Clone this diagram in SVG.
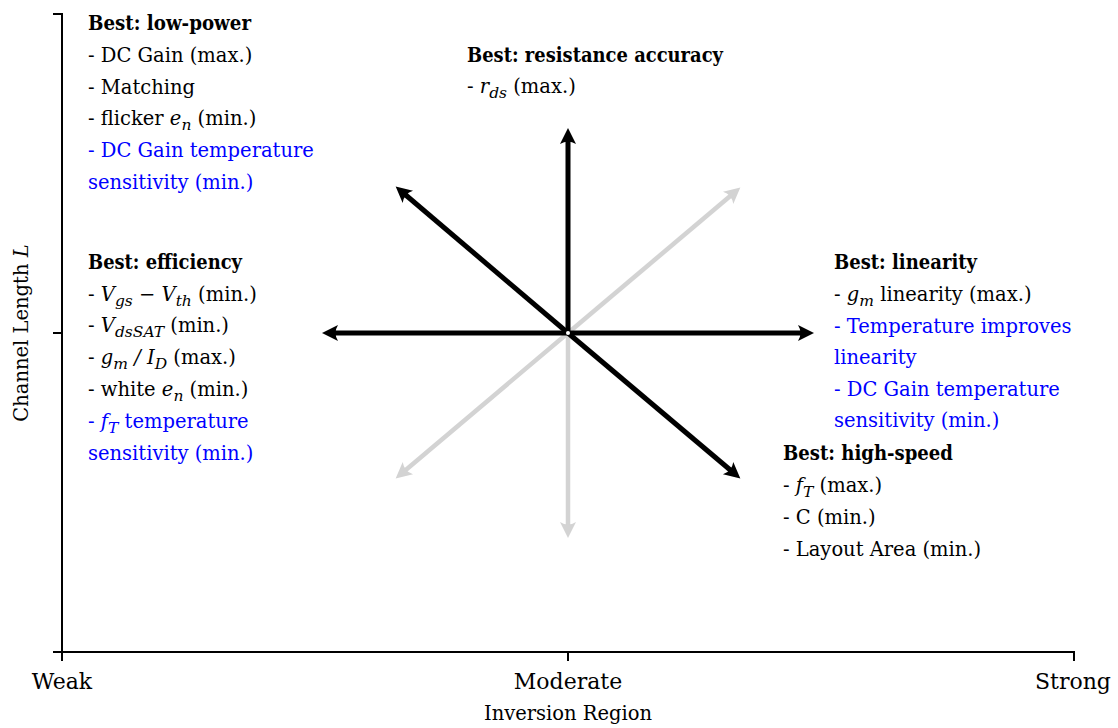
<svg xmlns="http://www.w3.org/2000/svg" width="1118" height="728" viewBox="0 0 1118 728">
  <style>
    text { font-family: "DejaVu Serif", "Liberation Serif", serif; font-size: 19.5px; fill: #000; }
    .b { font-weight: bold; font-size: 19.5px; }
    .blue { fill: #0000ff; }
    .m { font-style: italic; }
    .s { font-style: italic; font-size: 15.5px; }
    .tick { font-size: 22px; }
    .axis { stroke: #000; stroke-width: 2; fill: none; }
    .blk { stroke: #000; stroke-width: 5; fill: none; }
    .gry { stroke: #d3d3d3; stroke-width: 4.5; fill: none; }
  </style>
  <defs>
    <marker id="ahB" markerUnits="userSpaceOnUse" viewBox="-12 -10 24 20" refX="0" refY="0" markerWidth="24" markerHeight="20" orient="auto" overflow="visible">
      <path d="M7,0 L-9,-8 Q-4,0 -9,8 Z" fill="#000"/>
    </marker>
    <marker id="ahG" markerUnits="userSpaceOnUse" viewBox="-12 -10 24 20" refX="0" refY="0" markerWidth="24" markerHeight="20" orient="auto" overflow="visible">
      <path d="M7,0 L-9,-8 Q-4,0 -9,8 Z" fill="#d3d3d3"/>
    </marker>
  </defs>
  <rect width="1118" height="728" fill="#fff"/>

  <g id="axes">
    <path class="axis" d="M53,14 H62 V661"/>
    <path class="axis" d="M53,333 H62"/>
    <path class="axis" d="M53,652 H1074 V661"/>
    <path class="axis" d="M568,652 V661"/>
    <text class="tick" x="62" y="689" text-anchor="middle">Weak</text>
    <text class="tick" x="568" y="689" text-anchor="middle">Moderate</text>
    <text class="tick" x="1073" y="689" text-anchor="middle">Strong</text>
    <text x="568" y="720" text-anchor="middle">Inversion Region</text>
    <text x="28" y="333" text-anchor="middle" transform="rotate(-90 28 333)">Channel Length <tspan class="m">L</tspan></text>
  </g>

  <g id="connectors">
    <line class="gry" x1="568" y1="333" x2="735" y2="192" marker-end="url(#ahG)"/>
    <line class="gry" x1="568" y1="333" x2="401" y2="474" marker-end="url(#ahG)"/>
    <line class="gry" x1="568" y1="333" x2="568" y2="531" marker-end="url(#ahG)"/>
    <line class="blk" x1="568" y1="333" x2="568" y2="135" marker-end="url(#ahB)"/>
    <line class="blk" x1="568" y1="333" x2="329" y2="333" marker-end="url(#ahB)"/>
    <line class="blk" x1="568" y1="333" x2="807" y2="333" marker-end="url(#ahB)"/>
    <line class="blk" x1="568" y1="333" x2="401" y2="191" marker-end="url(#ahB)"/>
    <line class="blk" x1="568" y1="333" x2="735" y2="474" marker-end="url(#ahB)"/>
    <circle cx="568" cy="333" r="2" fill="#fff"/>
  </g>

  <g id="low-power">
    <text class="b" x="88" y="30" textLength="163" lengthAdjust="spacingAndGlyphs">Best: low-power</text>
    <text x="88" y="62">- DC Gain (max.)</text>
    <text x="88" y="94">- Matching</text>
    <text x="88" y="125">- flicker <tspan class="m">e</tspan><tspan class="s" dy="5">n</tspan><tspan dy="-5"> (min.)</tspan></text>
    <text class="blue" x="88" y="157">- DC Gain temperature</text>
    <text class="blue" x="88" y="189">sensitivity (min.)</text>
  </g>

  <g id="resistance-accuracy">
    <text class="b" x="467" y="62" textLength="256" lengthAdjust="spacingAndGlyphs">Best: resistance accuracy</text>
    <text x="467" y="93">- <tspan class="m">r</tspan><tspan class="s" dy="5">ds</tspan><tspan dy="-5"> (max.)</tspan></text>
  </g>

  <g id="efficiency">
    <text class="b" x="88" y="269" textLength="154" lengthAdjust="spacingAndGlyphs">Best: efficiency</text>
    <text x="88" y="301">- <tspan class="m">V</tspan><tspan class="s" dy="5">gs</tspan><tspan dy="-5"> − </tspan><tspan class="m">V</tspan><tspan class="s" dy="5">th</tspan><tspan dy="-5"> (min.)</tspan></text>
    <text x="88" y="332">- <tspan class="m">V</tspan><tspan class="s" dy="5">dsSAT</tspan><tspan dy="-5"> (min.)</tspan></text>
    <text x="88" y="364">- <tspan class="m">g</tspan><tspan class="s" dy="5">m</tspan><tspan class="m" dy="-5"> / I</tspan><tspan class="s" dy="5">D</tspan><tspan dy="-5"> (max.)</tspan></text>
    <text x="88" y="396">- white <tspan class="m">e</tspan><tspan class="s" dy="5">n</tspan><tspan dy="-5"> (min.)</tspan></text>
    <text class="blue" x="88" y="428">- <tspan class="m">f</tspan><tspan class="s" dy="5">T</tspan><tspan dy="-5"> temperature</tspan></text>
    <text class="blue" x="88" y="460">sensitivity (min.)</text>
  </g>

  <g id="linearity">
    <text class="b" x="834" y="269" textLength="143" lengthAdjust="spacingAndGlyphs">Best: linearity</text>
    <text x="834" y="301">- <tspan class="m">g</tspan><tspan class="s" dy="5">m</tspan><tspan dy="-5"> linearity (max.)</tspan></text>
    <text class="blue" x="834" y="333">- Temperature improves</text>
    <text class="blue" x="834" y="364">linearity</text>
    <text class="blue" x="834" y="396">- DC Gain temperature</text>
    <text class="blue" x="834" y="427">sensitivity (min.)</text>
  </g>

  <g id="high-speed">
    <text class="b" x="783" y="460" textLength="170" lengthAdjust="spacingAndGlyphs">Best: high-speed</text>
    <text x="783" y="492">- <tspan class="m">f</tspan><tspan class="s" dy="5">T</tspan><tspan dy="-5"> (max.)</tspan></text>
    <text x="783" y="524">- C (min.)</text>
    <text x="783" y="556">- Layout Area (min.)</text>
  </g>
</svg>
